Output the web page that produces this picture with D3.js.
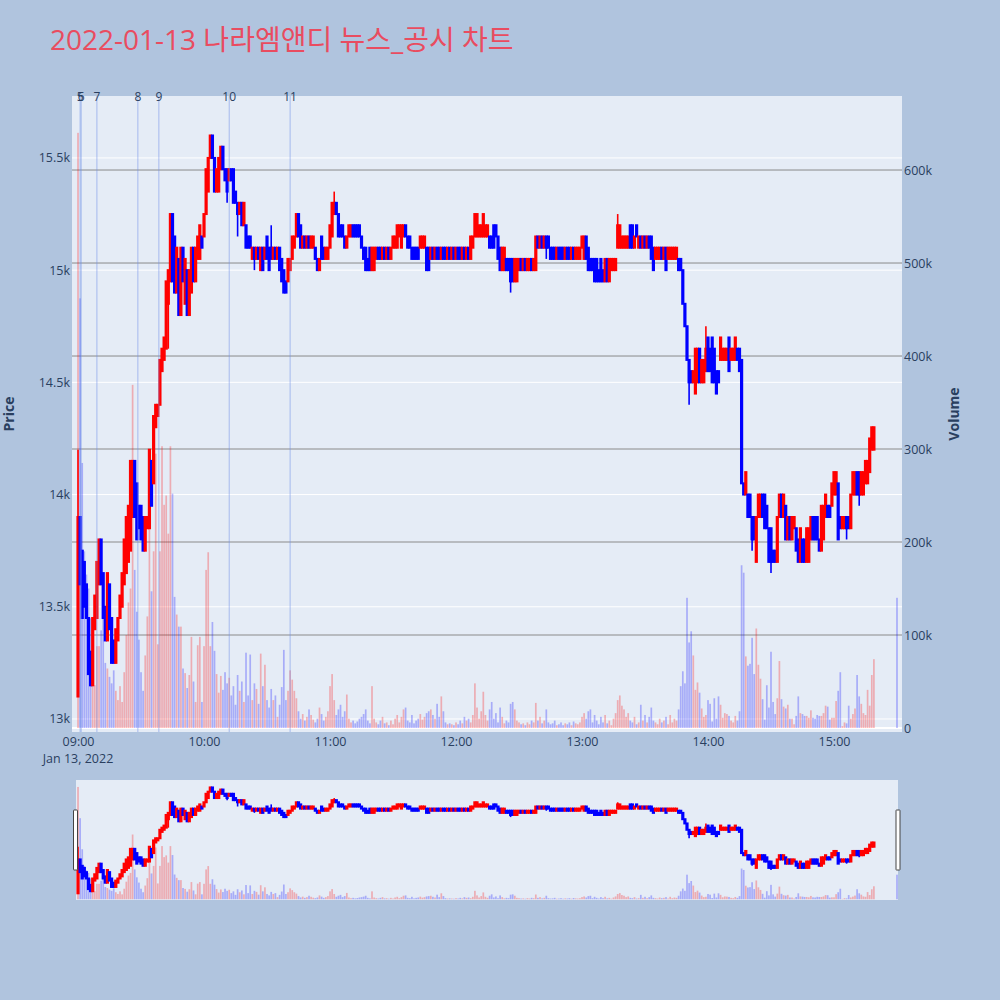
<!DOCTYPE html>
<html>
<head>
<meta charset="utf-8">
<script src="https://cdn.jsdelivr.net/npm/d3@7"></script>
<style>
  body { margin: 0; background: #b0c4de; }
  text { font-family: "Open Sans", "Noto Sans CJK KR", sans-serif; }
</style>
</head>
<body>
<div id="chart"></div>
<script>
// Data: one candle per minute from 09:00 to 15:19, then the 15:30 closing auction
const opens = [
  13100,13900,13750,13700,13600,13450,13300,13150,13400,13450,
  13600,13800,13650,13500,13350,13600,13450,13350,13250,13350,
  13450,13500,13600,13650,13700,13750,13900,14150,14050,13950,
  13950,13900,13750,13850,13850,14150,14050,14300,14350,14400,
  14550,14600,14650,14850,14950,15250,15150,14900,15050,14800,
  15100,14850,15000,14800,14900,15100,14950,15050,15050,15150,
  15150,15250,15350,15500,15600,15500,15350,15350,15450,15550,
  15450,15450,15400,15450,15450,15350,15300,15250,15300,15200,
  15200,15150,15150,15050,15100,15050,15100,15000,15100,15050,
  15150,15100,15100,15050,15100,15050,15100,15050,15000,14950,
  14950,15000,15050,15100,15150,15250,15200,15100,15150,15100,
  15150,15100,15100,15100,15050,15000,15150,15100,15050,15050,
  15100,15150,15250,15300,15250,15200,15200,15150,15100,15150,
  15150,15200,15200,15200,15200,15150,15100,15100,15050,15100,
  15000,15000,15050,15100,15100,15050,15100,15050,15100,15050,
  15100,15100,15100,15150,15100,15150,15200,15150,15150,15100,
  15100,15100,15100,15100,15100,15100,15100,15100,15050,15100,
  15050,15100,15100,15050,15100,15100,15050,15100,15050,15100,
  15050,15100,15100,15050,15100,15050,15100,15050,15100,15150,
  15150,15150,15150,15150,15150,15150,15150,15150,15200,15200,
  15150,15100,15000,15000,15050,15050,15050,15050,14950,14950,
  15000,15050,15000,15050,15000,15000,15050,15000,15000,15150,
  15100,15150,15100,15150,15150,15100,15100,15100,15050,15100,
  15100,15100,15050,15100,15100,15050,15100,15050,15050,15050,
  15100,15050,15150,15100,15050,15050,15050,15050,15000,15050,
  15000,14950,15050,14950,15000,15000,15000,15100,15100,15100,
  15100,15100,15100,15200,15200,15100,15200,15100,15150,15100,
  15150,15100,15150,15150,15100,15050,15050,15050,15100,15050,
  15100,15050,15050,15050,15050,15050,15050,15050,15000,14850,
  14750,14600,14550,14500,14450,14500,14650,14500,14500,14550,
  14700,14650,14700,14650,14550,14550,14600,14600,14600,14600,
  14700,14600,14600,14600,14650,14650,14600,14050,14000,14000,
  14000,13900,13900,13700,13900,13900,14000,14000,13950,13850,
  13850,13750,13750,13700,13900,14000,13900,13950,13800,13900,
  13800,13850,13850,13800,13700,13800,13800,13700,13700,13800,
  13900,13900,13900,13800,13750,13800,13900,13950,13950,13950,
  14000,14000,14050,13900,13850,13850,13900,13900,13850,14000,
  14000,14100,14100,14000,14000,14050,14050,14100,14200,14200,
  14250
];
const closes = [
  13900,13600,13450,13500,13450,13200,13150,13450,13550,13700,
  13800,13600,13450,13350,13650,13400,13250,13250,13400,13450,
  13550,13650,13800,13900,13950,14150,14150,13900,13800,13850,
  13800,13750,13900,13900,14200,13950,14350,14400,14400,14600,
  14650,14700,14950,15000,15250,14950,14900,15100,14800,15100,
  14950,15050,14800,15000,15100,14950,15100,15150,15200,15100,
  15250,15450,15500,15600,15500,15350,15450,15500,15550,15450,
  15400,15350,15450,15400,15300,15300,15250,15300,15200,15300,
  15100,15100,15100,15100,15050,15100,15050,15100,15000,15100,
  15050,15000,15050,15100,15050,15100,15000,14950,14900,14900,
  15050,15050,15150,15150,15250,15150,15100,15150,15100,15150,
  15100,15150,15150,15050,15000,15050,15050,15050,15100,15100,
  15200,15300,15300,15250,15150,15150,15150,15100,15150,15200,
  15200,15150,15150,15150,15150,15100,15050,15000,15000,15000,
  15100,15100,15100,15050,15050,15100,15050,15100,15050,15100,
  15150,15150,15200,15200,15200,15200,15150,15100,15100,15050,
  15050,15050,15050,15150,15150,15150,15000,15000,15100,15050,
  15100,15050,15050,15100,15050,15050,15100,15050,15100,15050,
  15100,15050,15050,15100,15050,15100,15050,15150,15150,15250,
  15250,15200,15200,15250,15200,15200,15100,15100,15100,15150,
  15050,15000,15100,15100,15000,15000,14950,14950,15050,15050,
  15050,15000,15050,15000,15050,15050,15000,15050,15150,15100,
  15150,15100,15150,15100,15100,15050,15050,15050,15100,15050,
  15050,15050,15100,15050,15050,15100,15050,15100,15100,15100,
  15150,15150,15050,15000,15000,15000,14950,14950,14950,14950,
  14950,15050,14950,15050,15050,15050,15050,15200,15200,15150,
  15150,15150,15150,15100,15100,15150,15150,15150,15100,15150,
  15100,15150,15100,15050,15000,15100,15100,15100,15050,15100,
  15000,15100,15100,15100,15100,15100,15000,15000,14850,14750,
  14600,14500,14500,14550,14650,14650,14500,14600,14600,14650,
  14550,14550,14500,14500,14450,14500,14700,14650,14650,14650,
  14550,14650,14650,14700,14600,14550,14050,14000,14100,13900,
  13900,13800,13800,13900,14000,14000,13900,13850,13850,13700,
  13700,13700,13700,13900,14000,13900,14000,13800,13900,13800,
  13900,13900,13750,13700,13850,13700,13700,13850,13850,13900,
  13800,13800,13800,13750,13950,13950,14000,13900,13900,14050,
  14100,14100,13800,13850,13900,13900,13850,13850,14000,14100,
  14100,14000,14000,14100,14100,14150,14150,14250,14300,14300,
  14250
];
// [candle index, high, low] where the wick reaches past the body
const wicks = [
  [0, 14200, 13100], [43, 15000, 14650], [71, 15450, 15300], [76, 15300, 15150],
  [84, 15100, 15000], [92, 15200, 15050], [122, 15350, 15250], [206, 15050, 14900],
  [223, 15150, 15050], [257, 15250, 15100], [291, 14600, 14400], [299, 14750, 14550],
  [321, 13900, 13750], [330, 13850, 13650], [366, 13900, 13800], [372, 14100, 13950]
];
// volume in thousands of shares
const volumesK = [
  640,462,285,190,165,150,118,70,46,88,
  88,105,120,70,64,55,48,62,40,30,
  45,28,60,100,135,150,369,170,125,95,
  60,40,78,120,263,147,190,295,90,190,
  303,240,250,209,303,252,141,122,109,109,
  64,59,43,57,98,50,28,89,98,28,
  88,170,189,88,114,83,58,38,56,41,
  60,48,54,35,45,25,57,40,50,28,
  81,35,79,30,48,42,26,80,45,68,
  30,22,42,30,35,12,25,44,84,30,
  40,62,52,40,32,18,10,15,8,12,
  20,14,9,6,10,22,15,8,12,18,
  45,58,30,14,20,25,12,18,36,10,
  6,8,5,7,10,12,15,20,8,5,
  45,10,6,4,8,12,5,6,3,8,
  4,10,14,6,12,20,22,8,6,14,
  5,8,10,15,9,12,16,18,20,14,
  10,26,12,34,18,6,4,5,4,3,
  6,4,8,5,12,8,10,6,14,48,
  22,10,18,39,14,8,20,28,10,16,
  6,22,12,5,8,6,26,28,20,8,
  6,4,5,3,6,4,8,6,27,8,
  12,5,8,20,6,4,5,8,3,4,
  6,3,5,4,6,3,7,5,4,6,
  12,16,10,18,20,6,14,8,4,12,
  6,14,5,8,3,10,16,30,35,24,
  20,12,16,8,6,12,4,6,25,8,
  14,6,12,22,8,6,4,10,6,8,
  12,4,14,6,10,8,20,45,61,48,
  140,92,104,78,41,49,38,21,12,14,
  30,26,7,32,10,34,25,11,16,15,
  13,8,6,13,8,18,175,167,77,67,
  69,97,58,107,68,53,31,9,46,22,
  82,28,15,32,72,31,23,21,25,10,
  10,4,13,34,16,15,13,13,11,19,
  11,10,14,13,13,16,24,23,9,11,
  11,29,40,60,2,6,5,24,10,15,
  21,57,34,26,16,14,41,24,57,74,
  140
];
const sessionStart = "09:00";
const closingAuction = "15:30";
const priceTicks = [13000, 13500, 14000, 14500, 15000, 15500];
const volumeTicks = [0, 100000, 200000, 300000, 400000, 500000, 600000];
const hourTicks = ["09:00", "10:00", "11:00", "12:00", "13:00", "14:00", "15:00"];
const newsLabels = ["5", "6", "7", "8", "9", "10", "11"];
const newsTimes = ["09:01:00", "09:01:30", "09:09:00", "09:28:30", "09:38:30", "10:12:00", "10:41:00"];

const day = "2022-01-13";
const parse = d3.timeParse("%Y-%m-%d %H:%M:%S");
const at = t => parse(`${day} ${t.length === 5 ? t + ":00" : t}`);

const start = at(sessionStart);
const candles = opens.map((o, i) => {
  const time = i < opens.length - 1 ? d3.timeMinute.offset(start, i) : at(closingAuction);
  const c = closes[i];
  const w = wicks.find(d => d[0] === i);
  return {
    time, open: o, close: c,
    high: Math.max(o, c, w ? w[1] : 0),
    low: Math.min(o, c, w ? w[2] : Infinity),
    volume: volumesK[i] * 1000,
    up: c > o
  };
});

const width = 1000, height = 1000;
const plot = { left: 72, right: 902, top: 96, bottom: 732 };
const slide = { left: 76, right: 898, top: 780, bottom: 900 };
const fg = "#2a3f5f";
const upColor = "#ff0000", downColor = "#0000ff";

const svg = d3.select("#chart").append("svg")
  .attr("width", width).attr("height", height);

svg.append("rect").attr("width", width).attr("height", height).attr("fill", "#b0c4de");

// Scales
const x = d3.scaleTime()
  .domain([parse(`${day} 08:57:08`), parse(`${day} 15:32:23`)])
  .range([plot.left, plot.right]);
const yPrice = d3.scaleLinear().domain([12942, 15776]).range([plot.bottom, plot.top]);
const yVol = d3.scaleLinear().domain([-4300, 679600]).range([plot.bottom, plot.top]);
const ySlidePrice = yPrice.copy().range([slide.bottom, slide.top]);
const ySlideVol = yVol.copy().range([slide.bottom, slide.top]);

const defs = svg.append("defs");
defs.append("clipPath").attr("id", "clip-main").append("rect")
  .attr("x", plot.left).attr("y", plot.top)
  .attr("width", plot.right - plot.left).attr("height", plot.bottom - plot.top);
defs.append("clipPath").attr("id", "clip-slide").append("rect")
  .attr("x", slide.left).attr("y", slide.top)
  .attr("width", slide.right - slide.left).attr("height", slide.bottom - slide.top);

// Title
svg.append("text")
  .attr("x", 50).attr("y", 50)
  .attr("font-size", 28)
  .attr("fill", "#e94c60")
  .text("2022-01-13 나라엠앤디 뉴스_공시 차트");

// Plot background and grids
svg.append("rect")
  .attr("x", plot.left).attr("y", plot.top)
  .attr("width", plot.right - plot.left).attr("height", plot.bottom - plot.top)
  .attr("fill", "#e5ecf6");

svg.append("g").selectAll("line").data(priceTicks).join("line")
  .attr("x1", plot.left).attr("x2", plot.right)
  .attr("y1", d => yPrice(d)).attr("y2", d => yPrice(d))
  .attr("stroke", "#fff").attr("stroke-width", 1);

svg.append("g").selectAll("line").data(volumeTicks.slice(1)).join("line")
  .attr("x1", plot.left).attr("x2", plot.right)
  .attr("y1", d => yVol(d)).attr("y2", d => yVol(d))
  .attr("stroke", "#8a8a8a").attr("stroke-width", 1);

svg.append("line")
  .attr("x1", plot.left).attr("x2", plot.right)
  .attr("y1", yVol(0)).attr("y2", yVol(0))
  .attr("stroke", "#fff").attr("stroke-width", 2);

function drawSeries(g, yP, yV) {
  g.append("g").selectAll("rect").data(candles).join("rect")
    .attr("x", d => x(d.time) - 0.85)
    .attr("width", 1.7)
    .attr("y", d => yV(d.volume))
    .attr("height", d => yV(0) - yV(d.volume))
    .attr("fill", d => d.up ? upColor : downColor)
    .attr("fill-opacity", 0.27);

  g.append("g").selectAll("line").data(candles).join("line")
    .attr("x1", d => x(d.time)).attr("x2", d => x(d.time))
    .attr("y1", d => yP(d.high)).attr("y2", d => yP(d.low))
    .attr("stroke", d => d.up ? upColor : downColor)
    .attr("stroke-width", 1.6);

  g.append("g").selectAll("rect").data(candles).join("rect")
    .attr("x", d => x(d.time) - 0.6)
    .attr("width", 1.2)
    .attr("y", d => yP(Math.max(d.open, d.close)))
    .attr("height", d => Math.abs(yP(d.open) - yP(d.close)))
    .attr("fill", d => d.up ? upColor : downColor)
    .attr("stroke", d => d.up ? upColor : downColor)
    .attr("stroke-width", 2);
}

drawSeries(svg.append("g").attr("clip-path", "url(#clip-main)"), yPrice, yVol);

// News markers
const news = newsLabels.map((label, i) => ({ label, time: at(newsTimes[i]) }));
svg.append("g").selectAll("line").data(news).join("line")
  .attr("x1", d => x(d.time)).attr("x2", d => x(d.time))
  .attr("y1", plot.top).attr("y2", plot.bottom)
  .attr("stroke", "#6f8fe8").attr("stroke-opacity", 0.55).attr("stroke-width", 1);
svg.append("g").selectAll("text").data(news).join("text")
  .attr("x", d => x(d.time)).attr("y", 101)
  .attr("text-anchor", "middle")
  .attr("font-size", 12).attr("fill", fg)
  .text(d => d.label);

// Axes labels
const yLeft = svg.append("g").attr("transform", `translate(${plot.left},0)`)
  .call(d3.axisLeft(yPrice).tickValues(priceTicks).tickSize(0).tickPadding(2)
    .tickFormat(d => d3.format("~")(d / 1000) + "k"));
const yRight = svg.append("g").attr("transform", `translate(${plot.right},0)`)
  .call(d3.axisRight(yVol).tickValues(volumeTicks).tickSize(0).tickPadding(2)
    .tickFormat(d => d === 0 ? "0" : d / 1000 + "k"));
const xAxis = svg.append("g").attr("transform", `translate(0,${plot.bottom})`)
  .call(d3.axisBottom(x).tickValues(hourTicks.map(at)).tickSize(0).tickPadding(5)
    .tickFormat(d3.timeFormat("%H:%M")));

[yLeft, yRight, xAxis].forEach(a => {
  a.select(".domain").remove();
  a.selectAll("text").attr("fill", fg).attr("font-size", 12.5)
    .attr("font-family", "'Open Sans', sans-serif");
});

svg.append("text")
  .attr("x", x(start)).attr("y", 763)
  .attr("text-anchor", "middle").attr("font-size", 12.5).attr("fill", fg)
  .text("Jan 13, 2022");

svg.append("text")
  .attr("transform", `translate(14,${(plot.top + plot.bottom) / 2}) rotate(-90)`)
  .attr("text-anchor", "middle").attr("font-size", 14).attr("font-weight", "bold")
  .attr("fill", fg).text("Price");
svg.append("text")
  .attr("transform", `translate(959,${(plot.top + plot.bottom) / 2}) rotate(-90)`)
  .attr("text-anchor", "middle").attr("font-size", 14).attr("font-weight", "bold")
  .attr("fill", fg).text("Volume");

// Range slider
svg.append("rect")
  .attr("x", slide.left).attr("y", slide.top)
  .attr("width", slide.right - slide.left).attr("height", slide.bottom - slide.top)
  .attr("fill", "#e5ecf6");
drawSeries(svg.append("g").attr("clip-path", "url(#clip-slide)"), ySlidePrice, ySlideVol);

const grabY = slide.top + 30;
[slide.left - 2.5, slide.right - 2].forEach(gx => {
  svg.append("rect")
    .attr("x", gx).attr("y", grabY)
    .attr("width", 4).attr("height", 60)
    .attr("rx", 0.5)
    .attr("fill", "#fff").attr("stroke", "#444").attr("stroke-width", 1);
});
</script>
</body>
</html>
